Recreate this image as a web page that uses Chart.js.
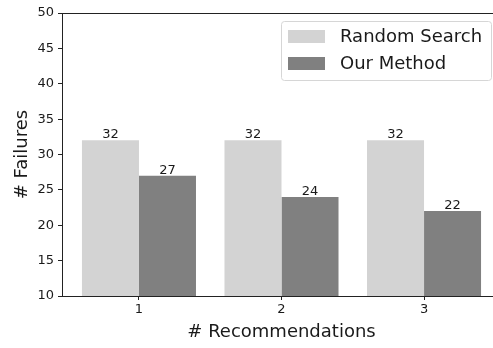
<!DOCTYPE html>
<html>
<head>
<meta charset="utf-8">
<script src="https://cdn.jsdelivr.net/npm/chart.js@4.4.0/dist/chart.umd.min.js"></script>
<style>
  html, body { margin: 0; padding: 0; overflow: hidden; background: #fff; width: 493px; height: 348px; }
  canvas { display: block; }
</style>
</head>
<body>
<canvas id="c" width="502" height="348"></canvas>
<script>
const categories = ['1', '2', '3'];
const randomSearch = [32, 32, 32];
const ourMethod = [27, 24, 22];
const yTicks = [10, 15, 20, 25, 30, 35, 40, 45, 50];

const FONT = "'DejaVu Sans', sans-serif";
const INK = '#1a1a1a';

// Top spine of the axes frame
const frameTop = {
  id: 'frameTop',
  afterDraw(chart) {
    const { ctx, chartArea: a } = chart;
    ctx.save();
    ctx.strokeStyle = '#222';
    ctx.lineWidth = 1;
    ctx.beginPath();
    ctx.moveTo(a.left, Math.round(a.top) + 0.5);
    ctx.lineTo(a.right, Math.round(a.top) + 0.5);
    ctx.stroke();
    ctx.restore();
  }
};

// Value labels above each bar
const barValues = {
  id: 'barValues',
  afterDatasetsDraw(chart) {
    const { ctx } = chart;
    ctx.save();
    ctx.font = '13px ' + FONT;
    ctx.fillStyle = INK;
    ctx.textAlign = 'center';
    ctx.textBaseline = 'alphabetic';
    chart.data.datasets.forEach((ds, di) => {
      const meta = chart.getDatasetMeta(di);
      meta.data.forEach((el, i) => {
        ctx.fillText(String(ds.data[i].y), el.x, el.y - 2);
      });
    });
    ctx.restore();
  }
};

// Framed legend in the upper right of the plot
const boxLegend = {
  id: 'boxLegend',
  afterDraw(chart) {
    const { ctx } = chart;
    const x = 281, y = 21, w = 210, h = 59, r = 3;
    ctx.save();
    ctx.fillStyle = 'rgba(255,255,255,0.8)';
    ctx.strokeStyle = '#d6d6d6';
    ctx.lineWidth = 1;
    ctx.beginPath();
    ctx.roundRect(x + 0.5, y + 0.5, w, h, r);
    ctx.fill();
    ctx.stroke();
    ctx.font = '18px ' + FONT;
    ctx.textBaseline = 'middle';
    ctx.textAlign = 'left';
    chart.data.datasets.forEach((ds, i) => {
      const cy = 36 + i * 27;
      ctx.fillStyle = ds.backgroundColor;
      ctx.fillRect(288, cy - 6, 37, 13);
      ctx.fillStyle = INK;
      ctx.fillText(ds.label, 340, cy + 1);
    });
    ctx.restore();
  }
};

const toPoints = arr => arr.map((v, i) => ({ x: i, y: v }));

new Chart(document.getElementById('c'), {
  type: 'bar',
  data: {
    datasets: [
      { label: 'Random Search', data: toPoints(randomSearch), backgroundColor: '#d3d3d3',
        categoryPercentage: 0.8, barPercentage: 1.0 },
      { label: 'Our Method', data: toPoints(ourMethod), backgroundColor: '#808080',
        categoryPercentage: 0.8, barPercentage: 1.0 }
    ]
  },
  options: {
    responsive: false,
    animation: false,
    devicePixelRatio: 1,
    layout: { padding: { top: 13, right: 1, left: 0, bottom: 0 } },
    plugins: { legend: { display: false }, tooltip: { enabled: false } },
    scales: {
      x: {
        type: 'linear',
        offset: false,
        min: -0.54,
        max: 2.54,
        afterBuildTicks: s => { s.ticks = categories.map((c, i) => ({ value: i })); },
        afterFit: s => { s.height = 52; },
        ticks: {
          callback: v => categories[v] ?? '',
          font: { family: FONT, size: 13 },
          color: INK,
          padding: 2,
          maxRotation: 0
        },
        grid: { display: true, offset: false, drawOnChartArea: false, drawTicks: true, tickLength: 4, tickColor: '#222' },
        border: { display: true, color: '#222', width: 1 },
        title: { display: true, text: '# Recommendations', font: { family: FONT, size: 18 }, color: INK,
                 padding: { top: 0, bottom: 5 } }
      },
      y: {
        min: 10,
        max: 50,
        afterBuildTicks: s => { s.ticks = yTicks.map(v => ({ value: v })); },
        afterFit: s => { s.width = 62; },
        ticks: { font: { family: FONT, size: 13 }, color: INK, padding: 4 },
        grid: { display: true, drawOnChartArea: false, drawTicks: true, tickLength: 4, tickColor: '#222' },
        border: { display: true, color: '#222', width: 1 },
        title: { display: true, text: '# Failures', font: { family: FONT, size: 18 }, color: INK,
                 padding: { top: 12, bottom: 0 } }
      }
    }
  },
  plugins: [frameTop, barValues, boxLegend]
});
</script>
</body>
</html>
